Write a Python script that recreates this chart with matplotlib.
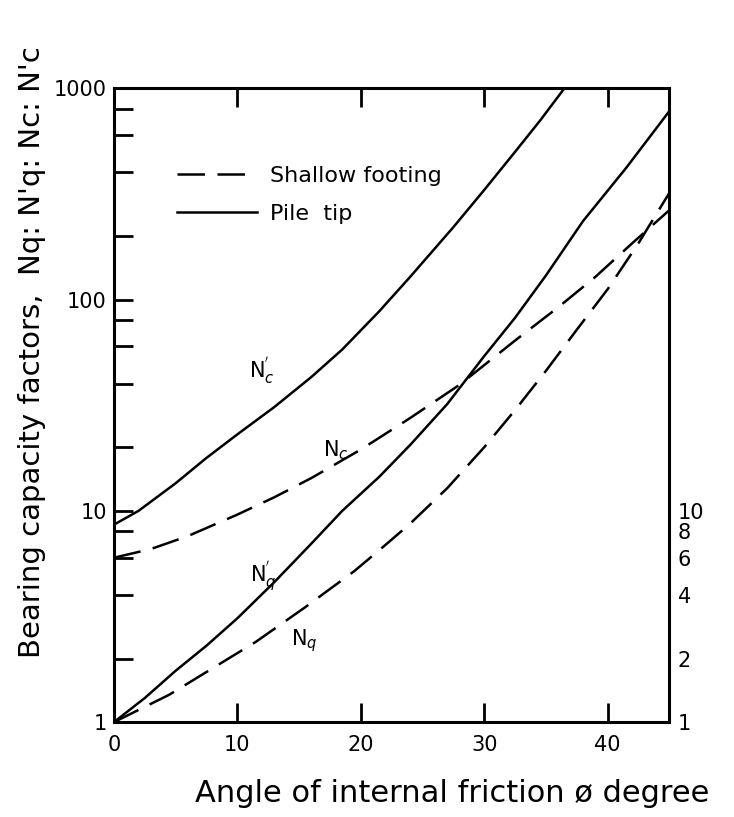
import numpy as np
import matplotlib
matplotlib.use("Agg")
import matplotlib.pyplot as plt
from matplotlib.ticker import NullLocator, FixedLocator

plt.rcParams['font.family'] = ['DejaVu Sans']

# values (angle in degrees, factor on log scale)
phi_nc_pile = [0, 2, 5, 7.5, 10, 13, 16, 18.5, 21.5, 24, 27.5, 30, 32.5, 34.5, 36.5]
nc_pile = [8.6, 10, 13.5, 17.8, 23, 31, 43, 58, 88, 128, 220, 330, 500, 700, 1000]

phi_nq_pile = [0, 2.5, 5, 7.5, 10, 13, 16, 18.5, 21.5, 24, 27, 30, 32.5, 35, 38, 41.5, 45]
nq_pile = [1, 1.3, 1.75, 2.3, 3.1, 4.6, 7.0, 10.0, 14.5, 20.5, 32, 54, 82, 130, 235, 420, 780]

phi_nc_shallow = [0, 3, 6, 10, 13, 16, 20, 24, 28, 32.5, 36, 39, 42, 45]
nc_shallow = [6.0, 6.6, 7.6, 9.6, 11.6, 14.3, 19.5, 27.5, 39.5, 64, 92, 128, 185, 265]

phi_nq_shallow = [0, 4.5, 8, 11.5, 15.5, 19.5, 22, 24, 27, 30, 32.5, 35, 37.5, 40, 42.5, 45]
nq_shallow = [1, 1.35, 1.8, 2.4, 3.5, 5.2, 6.9, 8.7, 12.8, 20, 30, 46, 72, 112, 185, 320]

x_ticks = [0, 10, 20, 30, 40]
y_ticks = [1, 2, 4, 6, 8, 10, 20, 40, 60, 80, 100, 200, 400, 600, 800, 1000]
y_labels = {1: '1', 10: '10', 100: '100', 1000: '1000'}
right_ticks = [1, 2, 4, 6, 8, 10]

fig = plt.figure(figsize=(7.34, 8.17), dpi=100)
ax = fig.add_axes([0.155, 0.116, 0.757, 0.776])

lw = 1.8
dash = (11, 5)
ax.plot(phi_nc_shallow, nc_shallow, color='black', lw=lw, dashes=dash, label='Shallow footing')
ax.plot(phi_nc_pile, nc_pile, color='black', lw=lw, label='Pile  tip')
ax.plot(phi_nq_pile, nq_pile, color='black', lw=lw)
ax.plot(phi_nq_shallow, nq_shallow, color='black', lw=lw, dashes=dash)

ax.set_yscale('log')
ax.set_xlim(0, 45)
ax.set_ylim(1, 1000)

ax.xaxis.set_major_locator(FixedLocator(x_ticks))
ax.yaxis.set_major_locator(FixedLocator(y_ticks))
ax.yaxis.set_minor_locator(NullLocator())
ax.set_yticklabels([y_labels.get(t, '') for t in y_ticks])
ax.tick_params(axis='both', which='major', direction='in', length=14, width=2,
               top=True, right=True, labelsize=15)
ax.tick_params(axis='x', pad=9)
ax.tick_params(axis='y', pad=5)
for s in ax.spines.values():
    s.set_linewidth(2.2)

# right hand labels for the lower decade
ax2 = ax.twinx()
ax2.set_yscale('log')
ax2.set_ylim(1, 1000)
ax2.yaxis.set_major_locator(FixedLocator(right_ticks))
ax2.yaxis.set_minor_locator(NullLocator())
ax2.set_yticklabels([str(t) for t in right_ticks])
ax2.tick_params(axis='y', length=0, pad=6, labelsize=15)
for s in ax2.spines.values():
    s.set_visible(False)

# curve labels
ax.text(12, 46, "N$_c^{'}$", fontsize=15, ha='center', va='center')
ax.text(18, 19.4, "N$_c$", fontsize=15, ha='center', va='center')
ax.text(12.1, 4.9, "N$_q^{'}$", fontsize=15, ha='center', va='center')
ax.text(15.4, 2.44, "N$_q$", fontsize=15, ha='center', va='center')

leg = ax.legend(loc='upper left', bbox_to_anchor=(0.113, 0.877), frameon=False,
                fontsize=16, handlelength=3.6, handletextpad=0.6,
                labelspacing=0.8, borderpad=0, borderaxespad=0)

fig.text(452 / 734, 1 - 793 / 817, 'Angle of internal friction \u00f8 degree',
         fontsize=22, ha='center', va='center')
fig.text(32 / 734, 1 - 352 / 817, "Bearing capacity factors,  Nq: N'q: Nc: N'c",
         fontsize=21, rotation=90, ha='center', va='center')

fig.savefig('out.png', dpi=100)
